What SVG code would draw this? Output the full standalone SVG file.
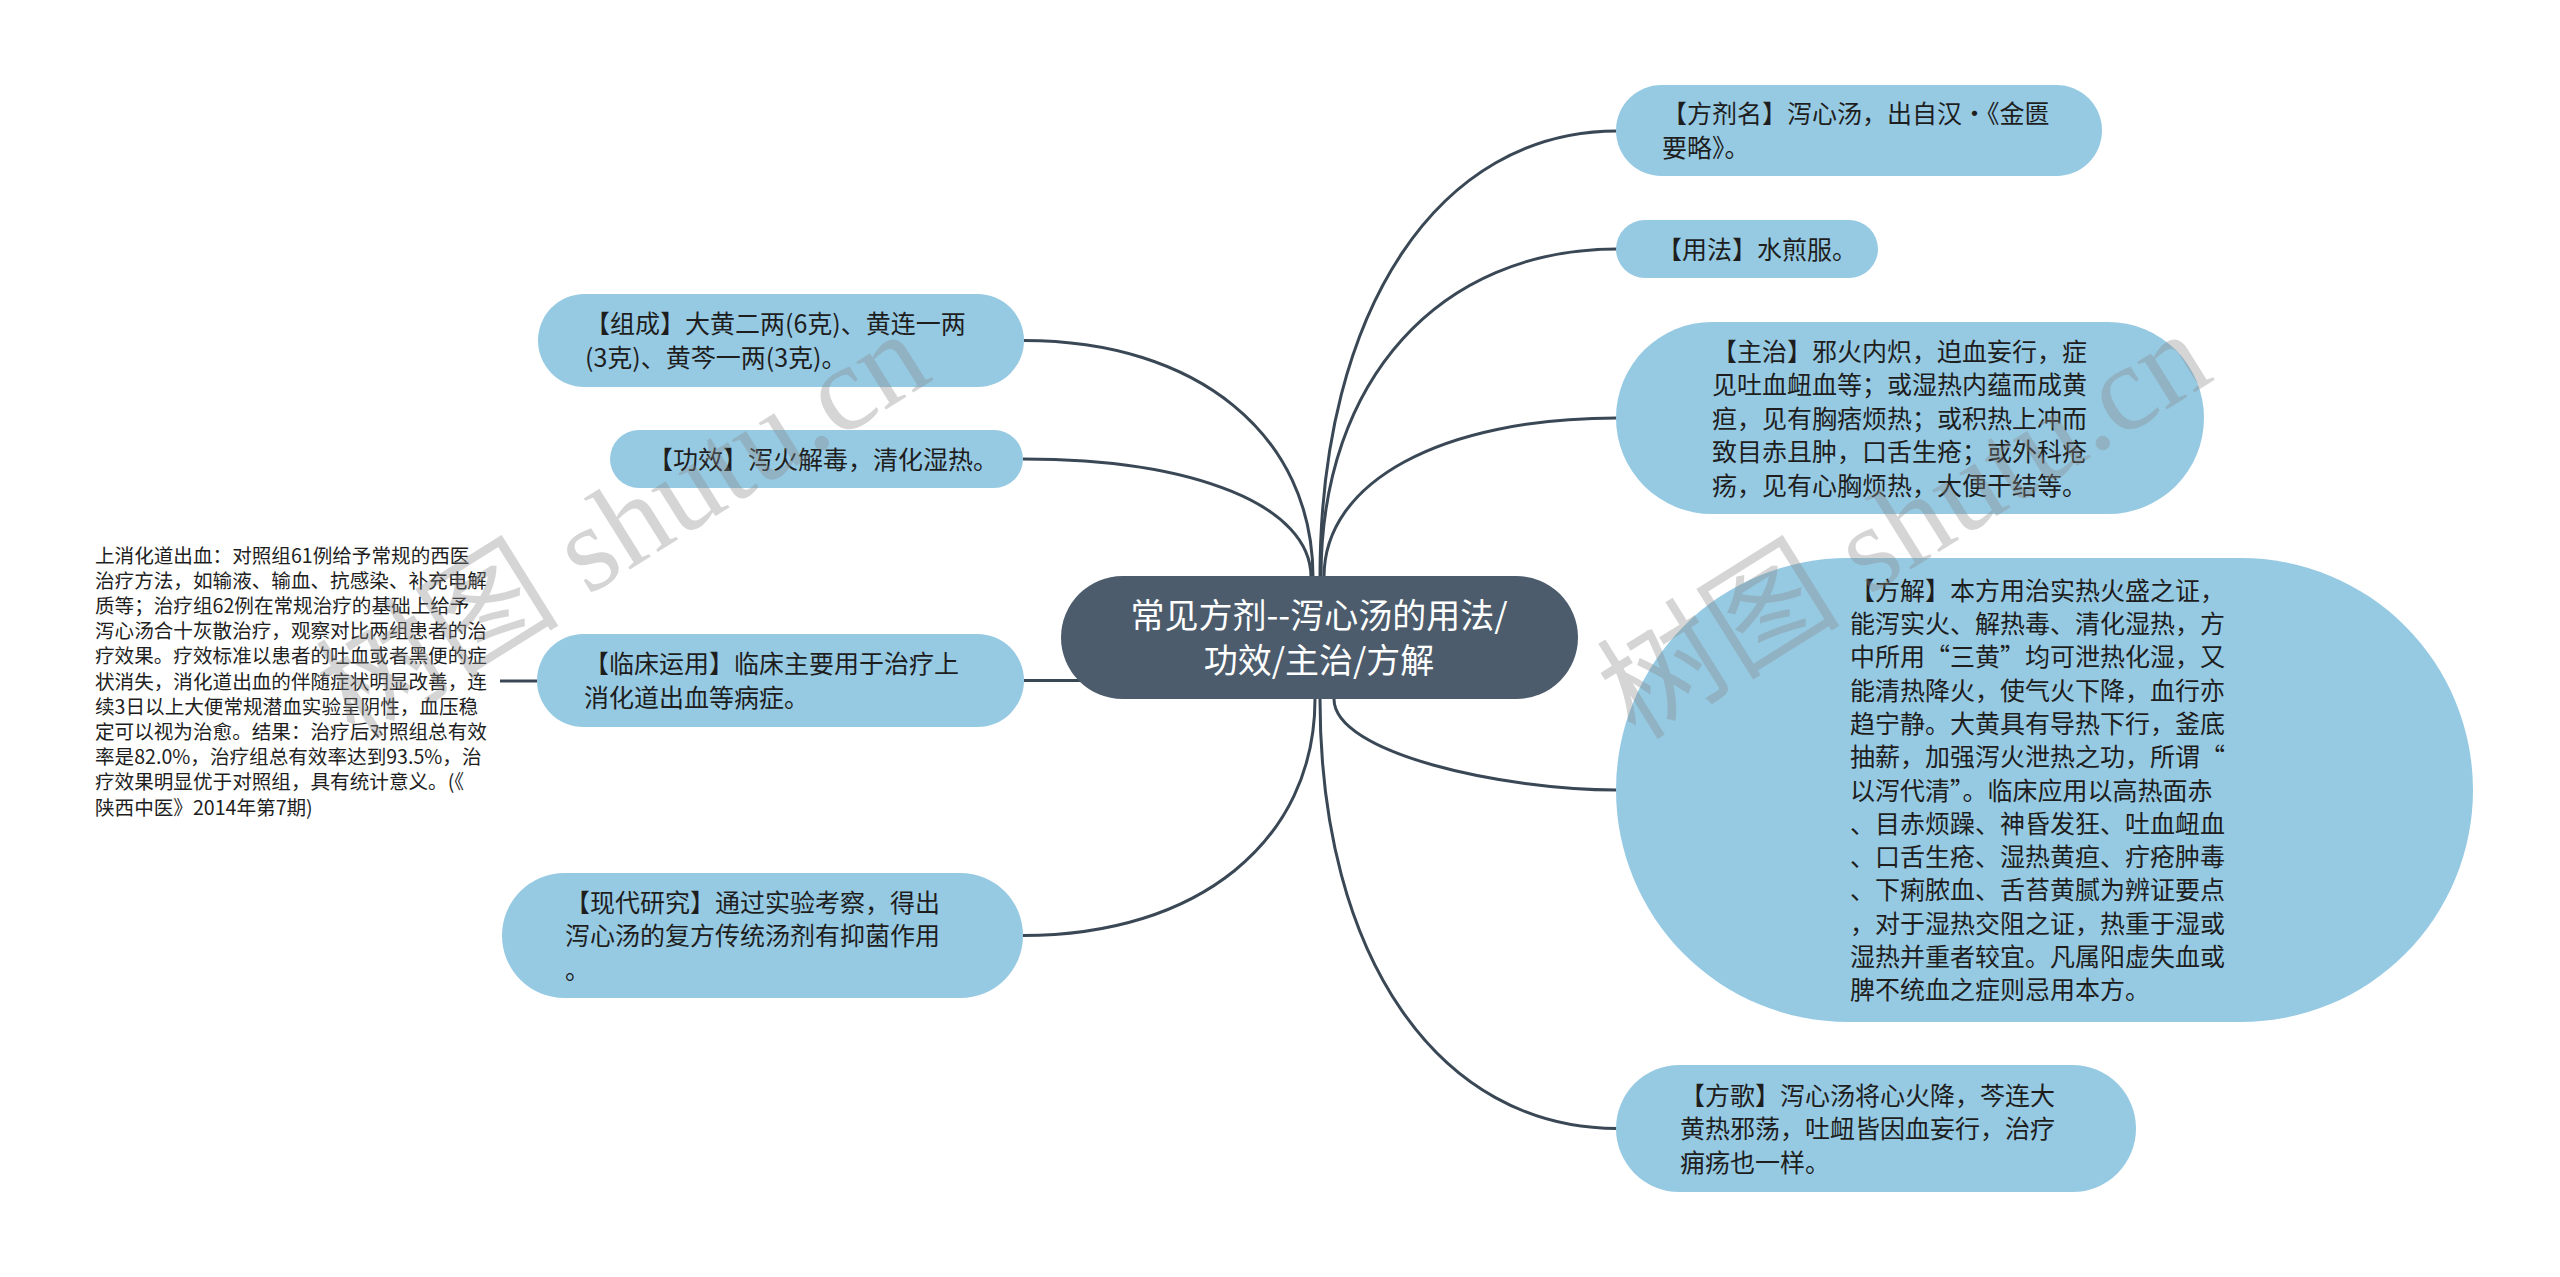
<svg xmlns="http://www.w3.org/2000/svg" width="2560" height="1277" viewBox="0 0 2560 1277">
<style>
.node rect{fill:#96cae3;}
.t{font-family:"Noto Sans CJK SC","Liberation Sans",sans-serif;font-size:25px;fill:#1e1e1e;}
.note{font-family:"Noto Sans CJK SC","Liberation Sans",sans-serif;font-size:19.6px;fill:#1e1e1e;}
.root rect{fill:#4c5c6c;}
.rt{font-family:"Noto Sans CJK SC","Liberation Sans",sans-serif;font-size:34px;fill:#ffffff;text-anchor:middle;}
.links path{fill:none;stroke:#3a4856;stroke-width:3;}
.wm{font-family:"Liberation Serif","Noto Sans CJK SC",serif;font-size:122px;fill:#888888;opacity:0.35;text-anchor:middle;}
</style>
<rect width="2560" height="1277" fill="#ffffff"/>
<g class="links" id="connectors">
<path d="M1320,577 C1320,309.4 1438.8,131 1617,131"/>
<path d="M1321,577 C1321,380.2 1439.4,249 1617,249"/>
<path d="M1324,577 C1324,481.6 1441.2,418 1617,418"/>
<path d="M1313,577 C1313,435.1 1197.4,340.5 1024,340.5"/>
<path d="M1311,577 C1311,506.2 1195.8,459 1023,459"/>
<path d="M1024,680.5 L1090,680.5"/>
<path d="M500,681 L537,681"/>
<path d="M1315,699 C1315,840.9 1198.2,935.5 1023,935.5"/>
<path d="M1334,699 C1334,753.6 1503.8,790 1617,790"/>
<path d="M1320,699 C1320,956.7 1438.8,1128.5 1617,1128.5"/>
</g>
<g class="root" id="root">
<rect x="1061" y="576" width="517" height="123" rx="61.5"/>
<text class="rt" x="1319" y="628">常见方剂--泻心汤的用法/</text>
<text class="rt" x="1319" y="673">功效/主治/方解</text>
</g>
<g class="node" id="n-fangjiming">
<rect x="1616" y="85" width="486" height="91" rx="45.5"/>
<text class="t" x="1662" y="123">【方剂名】泻心汤，出自汉·《金匮</text>
<text class="t" x="1662" y="156.5">要略》。</text>
</g>
<g class="node" id="n-yongfa">
<rect x="1616" y="220" width="262" height="58" rx="29"/>
<text class="t" x="1657" y="258.5">【用法】水煎服。</text>
</g>
<g class="node" id="n-zhuzhi">
<rect x="1616" y="322" width="588" height="192" rx="96"/>
<text class="t" x="1712" y="360.5">【主治】邪火内炽，迫血妄行，症</text>
<text class="t" x="1712" y="394">见吐血衄血等；或湿热内蕴而成黄</text>
<text class="t" x="1712" y="427.5">疸，见有胸痞烦热；或积热上冲而</text>
<text class="t" x="1712" y="461">致目赤且肿，口舌生疮；或外科疮</text>
<text class="t" x="1712" y="494.5">疡，见有心胸烦热，大便干结等。</text>
</g>
<g class="node" id="n-fangjie">
<rect x="1616" y="558" width="857" height="464" rx="232"/>
<text class="t" x="1850" y="599.7">【方解】本方用治实热火盛之证，</text>
<text class="t" x="1850" y="633">能泻实火、解热毒、清化湿热，方</text>
<text class="t" x="1850" y="666.3">中所用“三黄”均可泄热化湿，又</text>
<text class="t" x="1850" y="699.6">能清热降火，使气火下降，血行亦</text>
<text class="t" x="1850" y="732.9">趋宁静。大黄具有导热下行，釜底</text>
<text class="t" x="1850" y="766.2">抽薪，加强泻火泄热之功，所谓“</text>
<text class="t" x="1850" y="799.5">以泻代清”。临床应用以高热面赤</text>
<text class="t" x="1850" y="832.8">、目赤烦躁、神昏发狂、吐血衄血</text>
<text class="t" x="1850" y="866.1">、口舌生疮、湿热黄疸、疔疮肿毒</text>
<text class="t" x="1850" y="899.4">、下痢脓血、舌苔黄腻为辨证要点</text>
<text class="t" x="1850" y="932.7">，对于湿热交阻之证，热重于湿或</text>
<text class="t" x="1850" y="966">湿热并重者较宜。凡属阳虚失血或</text>
<text class="t" x="1850" y="999.3">脾不统血之症则忌用本方。</text>
</g>
<g class="node" id="n-fangge">
<rect x="1616" y="1065" width="520" height="127" rx="63.5"/>
<text class="t" x="1680" y="1104.5">【方歌】泻心汤将心火降，芩连大</text>
<text class="t" x="1680" y="1138">黄热邪荡，吐衄皆因血妄行，治疗</text>
<text class="t" x="1680" y="1171.5">痈疡也一样。</text>
</g>
<g class="node" id="n-zucheng">
<rect x="538" y="294" width="486" height="93" rx="46.5"/>
<text class="t" x="585" y="333.3">【组成】大黄二两(6克)、黄连一两</text>
<text class="t" x="585" y="366.8">(3克)、黄芩一两(3克)。</text>
</g>
<g class="node" id="n-gongxiao">
<rect x="610" y="430" width="413" height="58" rx="29"/>
<text class="t" x="648" y="468.5">【功效】泻火解毒，清化湿热。</text>
</g>
<g class="node" id="n-linchuang">
<rect x="537" y="634" width="487" height="93" rx="46.5"/>
<text class="t" x="584" y="673.3">【临床运用】临床主要用于治疗上</text>
<text class="t" x="584" y="706.8">消化道出血等病症。</text>
</g>
<g id="n-note">
<text class="note" x="95" y="562.5">上消化道出血：对照组61例给予常规的西医</text>
<text class="note" x="95" y="587.7">治疗方法，如输液、输血、抗感染、补充电解</text>
<text class="note" x="95" y="612.9">质等；治疗组62例在常规治疗的基础上给予</text>
<text class="note" x="95" y="638.1">泻心汤合十灰散治疗，观察对比两组患者的治</text>
<text class="note" x="95" y="663.3">疗效果。疗效标准以患者的吐血或者黑便的症</text>
<text class="note" x="95" y="688.5">状消失，消化道出血的伴随症状明显改善，连</text>
<text class="note" x="95" y="713.7">续3日以上大便常规潜血实验呈阴性，血压稳</text>
<text class="note" x="95" y="738.9">定可以视为治愈。结果：治疗后对照组总有效</text>
<text class="note" x="95" y="764.1">率是82.0%，治疗组总有效率达到93.5%，治</text>
<text class="note" x="95" y="789.3">疗效果明显优于对照组，具有统计意义。(《</text>
<text class="note" x="95" y="814.5">陕西中医》2014年第7期)</text>
</g>
<g class="node" id="n-xiandai">
<rect x="502" y="873" width="521" height="125" rx="62.5"/>
<text class="t" x="565" y="911.5">【现代研究】通过实验考察，得出</text>
<text class="t" x="565" y="945">泻心汤的复方传统汤剂有抑菌作用</text>
<text class="t" x="565" y="978.5">。</text>
</g>
<g id="watermarks">
<text class="wm" transform="translate(645,560) rotate(-32)">树图 shutu.cn</text>
<text class="wm" transform="translate(1926,560) rotate(-32)">树图 shutu.cn</text>
</g>
</svg>
